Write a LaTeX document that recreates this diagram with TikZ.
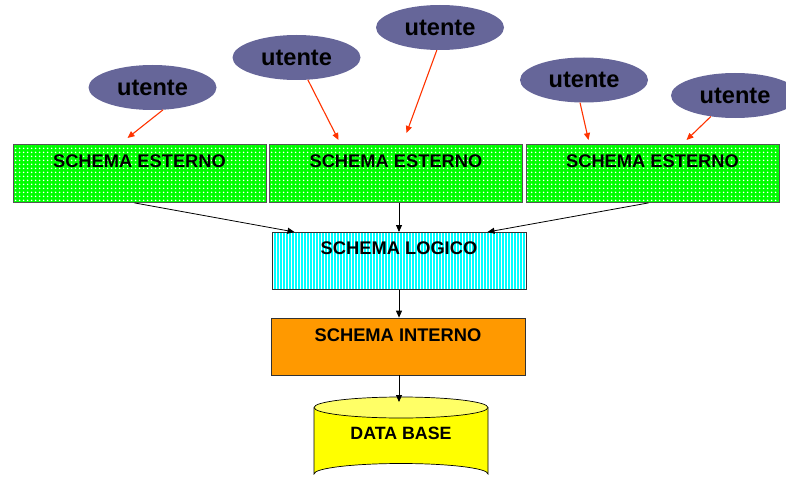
\documentclass[tikz,border=0pt]{standalone}
\usepackage{fontspec}
\setmainfont{Liberation Sans}
\usetikzlibrary{shapes.geometric,patterns.meta,arrows.meta,calc}
\definecolor{ugreen}{HTML}{00FF00}
\definecolor{ucyan}{HTML}{00FFFF}
\definecolor{uorange}{HTML}{FF9900}
\definecolor{uviolet}{HTML}{666699}
\definecolor{uyellow}{HTML}{FFFF00}
\definecolor{uyellowtop}{HTML}{FFFF66}
\definecolor{ured}{HTML}{FF3300}
\definecolor{ugray}{HTML}{555555}
\tikzset{
  esterno/.style={draw=ugray, line width=0.8pt, minimum width=253pt, minimum height=58pt, inner sep=0pt,
    preaction={fill=ugreen}, pattern={Dots[distance=4pt, radius=1pt]}, pattern color=white},
  logico/.style={draw=black!80, line width=0.7pt, minimum width=254pt, minimum height=57pt, inner sep=0pt,
    preaction={fill=ucyan}, pattern={Lines[angle=90, distance=3pt, line width=1pt]}, pattern color=white},
  interno/.style={draw=black!80, line width=0.7pt, fill=uorange, minimum width=254pt, minimum height=57pt, inner sep=0pt},
  utente/.style={ellipse, fill=uviolet, minimum width=128pt, minimum height=45pt, inner sep=0pt,
    font=\fontsize{23.6}{26}\selectfont\bfseries},
  lbl/.style={font=\fontsize{18.3}{21}\selectfont\bfseries, inner sep=0pt},
  redarrow/.style={draw=ured, line width=1.1pt, -{Triangle[length=7pt,width=6pt]}},
  blackarrow/.style={draw=black, line width=0.8pt, -{Triangle[length=7pt,width=6pt]}},
}
\begin{document}
\begin{tikzpicture}[x=1pt,y=-1pt]
\useasboundingbox (0,0) rectangle (786,476);
\clip (0,0) rectangle (786,476);

% utente ellipses
\node[utente] (u1) at (152.5,87.5) {utente};
\node[utente] (u2) at (296.5,57.5) {utente};
\node[utente] (u3) at (440,27.5) {utente};
\node[utente] (u4) at (584,80) {utente};
\node[utente] (u5) at (735,95.5) {utente};

% schema esterno boxes
\node[esterno] (e1) at (139.5,173.5) {};
\node[esterno] (e2) at (396,173.5) {};
\node[esterno] (e3) at (652.5,173.5) {};
\node[lbl] (t1) at (139.5,161.3) {SCHEMA ESTERNO};
\node[lbl] (t2) at (396,161.3) {SCHEMA ESTERNO};
\node[lbl] (t3) at (652.5,161.3) {SCHEMA ESTERNO};

% red arrow targets
\coordinate (r1) at (127.5,138);
\coordinate (r2) at (338.5,140);
\coordinate (r3) at (406.5,133);
\coordinate (r4) at (588.5,140);
\coordinate (r5) at (686.5,140);
\draw[redarrow] (u1.-65) -- (r1);
\draw[redarrow] (u2.-63.5) -- (r2);
\draw[redarrow] (u3.-98) -- (r3);
\draw[redarrow] (u4.-100) -- (r4);
\draw[redarrow] (u5.-139.5) -- (r5);

% schema logico
\node[logico] (lg) at (399,261) {};
\node[lbl] (tl) at (399,248.3) {SCHEMA LOGICO};

% schema interno
\node[interno] (in) at (398,346.5) {};
\node[lbl] (ti) at (398,335) {SCHEMA INTERNO};

% data base cylinder
\coordinate (dbtop) at (399,402);
\draw[black, line width=0.7pt, fill=uyellow] (314,407.5) -- (314,474) arc[start angle=180, end angle=360, x radius=87, y radius=10.5] -- (488,407.5);
\draw[black, line width=0.7pt, fill=uyellowtop] (401,407.5) ellipse[x radius=87, y radius=10.5];
\node[lbl, font=\fontsize{17.8}{21}\selectfont\bfseries] (db) at (401,433.3) {DATA BASE};

% black arrows
\draw[blackarrow] ($(e1.south)+(-5,0)$) -- ($(lg.north west)+(23,0)$);
\draw[blackarrow] (e2.south -| lg.north) -- (lg.north);
\draw[blackarrow] ($(e3.south)+(-4,0)$) -- ($(lg.north east)+(-39,0)$);
\draw[blackarrow] (lg.south) -- (lg.south |- in.north);
\draw[blackarrow] (dbtop |- in.south) -- (dbtop);
\end{tikzpicture}
\end{document}
